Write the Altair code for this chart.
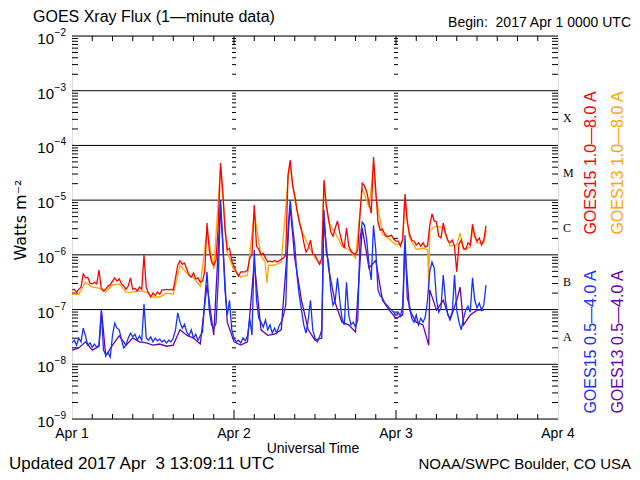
import altair as alt
import pandas as pd

# ---------------- data ----------------
# GOES15 series are sampled on a 20-minute grid starting Apr 1 00:00 UTC
STEP_HOURS = 20 / 60

# GOES15 1.0-8.0 A  (log10 of W/m^2)
g15_long_log10 = [
    -6.64, -6.63, -6.68, -6.63, -6.59, -6.35, -6.42, -6.41, -6.52, -6.53,
    -6.50, -6.53, -6.28, -6.61, -6.66, -6.63, -6.57, -6.55, -6.48, -6.42,
    -6.48, -6.44, -6.53, -6.57, -6.63, -6.57, -6.42, -6.63, -6.61, -6.66,
    -6.59, -6.63, -6.00, -6.59, -6.70, -6.77, -6.70, -6.74, -6.68, -6.72,
    -6.64, -6.64, -6.63, -6.64, -6.63, -6.64, -6.42, -6.19, -6.11, -6.17,
    -6.15, -6.26, -6.37, -6.41, -6.33, -6.44, -6.42, -6.50, -6.48, -6.31,
    -5.42, -5.91, -6.13, -6.19, -6.10, -5.46, -4.32, -4.82, -5.55, -5.91,
    -5.88, -6.11, -6.21, -6.31, -6.39, -6.31, -6.31, -6.31, -6.28, -6.06,
    -6.00, -5.09, -5.84, -5.90, -6.00, -5.97, -6.06, -6.13, -6.11, -6.13,
    -6.10, -6.13, -6.11, -6.08, -6.06, -6.00, -4.54, -4.27, -4.72, -4.91,
    -5.18, -5.40, -5.55, -5.77, -5.95, -5.88, -5.73, -5.99, -6.00, -6.10,
    -6.17, -6.06, -4.63, -5.09, -5.33, -5.58, -5.66, -5.51, -5.38, -5.60,
    -5.77, -5.88, -5.51, -5.84, -5.93, -5.97, -5.99, -5.91, -5.27, -4.69,
    -4.74, -4.85, -5.05, -5.24, -4.21, -4.82, -5.40, -5.55, -5.53, -5.62,
    -5.66, -5.66, -5.64, -5.71, -5.75, -5.75, -5.84, -5.69, -4.89, -5.40,
    -5.62, -5.73, -5.75, -5.82, -5.78, -5.84, -5.78, -5.86, -5.84, -5.46,
    -5.25, -5.38, -5.40, -5.66, -5.69, -5.42, -5.60, -5.73, -5.78, -5.73,
    -5.84, -6.31, -5.80, -5.73, -5.88, -5.90, -5.78, -5.82, -5.44, -5.66,
    -5.75, -5.69, -5.82, -5.73, -5.47,
]

# GOES15 0.5-4.0 A  (log10 of W/m^2)
g15_short_log10 = [
    -7.61, -7.56, -7.65, -7.52, -7.59, -7.34, -7.48, -7.65, -7.61, -7.69,
    -7.63, -7.69, -7.65, -7.01, -7.74, -7.83, -7.78, -7.87, -7.47, -7.25,
    -7.34, -7.37, -7.56, -7.70, -7.65, -7.52, -7.43, -7.50, -7.45, -7.56,
    -7.48, -7.56, -6.90, -7.52, -7.56, -7.50, -7.59, -7.52, -7.57, -7.54,
    -7.59, -7.56, -7.61, -7.56, -7.59, -7.52, -7.37, -7.06, -7.23, -7.34,
    -7.27, -7.41, -7.48, -7.37, -7.52, -7.45, -7.56, -7.48, -7.41, -6.83,
    -6.31, -7.01, -7.28, -7.34, -7.25, -6.46, -5.00, -5.73, -6.64, -7.10,
    -6.83, -7.37, -7.52, -7.59, -7.56, -7.61, -7.52, -7.57, -7.48, -7.16,
    -7.47, -5.91, -6.83, -7.16, -7.23, -7.32, -7.19, -7.37, -7.28, -7.43,
    -7.34, -7.43, -7.30, -7.23, -7.10, -6.92, -5.55, -5.00, -5.47, -5.82,
    -6.37, -6.74, -7.01, -7.28, -7.43, -7.19, -6.83, -7.37, -7.52, -7.59,
    -7.50, -7.37, -5.18, -5.95, -6.13, -6.64, -6.92, -6.83, -6.42, -6.83,
    -7.16, -7.28, -6.50, -7.10, -7.28, -7.23, -7.32, -7.19, -5.73, -5.40,
    -5.46, -5.73, -6.19, -6.46, -5.46, -5.91, -6.64, -6.75, -6.79, -6.88,
    -6.92, -6.97, -7.01, -7.05, -7.10, -7.05, -7.12, -6.92, -5.64, -6.79,
    -6.92, -7.16, -7.23, -7.10, -7.28, -7.16, -7.23, -7.14, -6.83, -6.31,
    -6.13, -6.24, -6.83, -7.05, -6.97, -6.37, -6.83, -7.10, -7.16, -7.05,
    -6.37, -7.01, -7.23, -7.37, -7.16, -7.01, -6.94, -7.05, -6.42, -6.83,
    -6.97, -6.88, -7.01, -6.92, -6.55,
]

# GOES13 1.0-8.0 A : hours since Apr 1 00:00 UTC and log10 flux
g13_long_hours = [
    0, 1, 2, 3, 4, 5, 6, 7, 8, 9, 10, 11, 12, 13, 14, 15, 16, 17, 18, 19,
    20, 21, 22, 23, 24, 25, 26, 27, 28, 28.6, 28.9, 29.1, 30, 31, 32, 32.3,
    33, 34, 35, 36, 37, 37.3, 38, 39, 40, 41, 42, 43, 44, 44.7, 45, 46, 47,
    48, 49, 49.3, 50, 51, 52, 52.7, 52.85, 53, 54, 55, 56, 57, 57.5, 58, 59,
    59.4, 60, 61, 61.4,
]
g13_long_log10 = [
    -6.72, -6.72, -6.50, -6.59, -6.61, -6.68, -6.55, -6.53, -6.68, -6.68,
    -6.66, -6.68, -6.77, -6.77, -6.70, -6.72, -6.19, -6.33, -6.42, -6.57,
    -5.55, -6.26, -4.41, -5.95, -6.28, -6.41, -6.37, -5.22, -6.02, -6.13,
    -6.52, -6.19, -6.19, -6.13, -4.63, -4.32, -5.00, -5.55, -5.82, -6.06,
    -6.17, -4.72, -5.40, -5.60, -5.84, -5.91, -6.06, -4.78, -5.13, -4.36,
    -4.91, -5.62, -5.71, -5.82, -5.78, -4.96, -5.69, -5.90, -5.88, -5.91,
    -6.70, -5.55, -5.47, -5.51, -5.84, -5.82, -5.60, -5.91, -5.86, -5.51,
    -5.78, -5.78, -5.55,
]

# GOES13 0.5-4.0 A
g13_short_hours = [
    0, 1, 2, 3, 4, 4.4, 5, 6, 7, 8, 9, 10, 11, 12, 13, 14, 15, 16, 17, 18,
    19, 20, 21, 22, 23, 24, 25, 26, 27, 28, 29, 30, 31, 32, 32.3, 33, 34,
    35, 36, 37, 37.3, 38, 39, 40, 41, 42, 43, 44, 45, 46, 47, 48, 49, 49.3,
    50, 51, 52, 52.85, 53, 54, 55, 56, 57, 57.5, 58, 59, 60, 61,
]
g13_short_log10 = [
    -7.74, -7.70, -7.59, -7.74, -7.67, -7.05, -7.85, -7.65, -7.48, -7.65,
    -7.52, -7.59, -7.61, -7.65, -7.63, -7.67, -7.65, -7.37, -7.47, -7.52,
    -7.63, -6.55, -7.47, -5.09, -7.23, -7.59, -7.65, -7.59, -6.13, -7.37,
    -7.47, -7.45, -7.37, -5.73, -5.09, -6.06, -6.83, -7.37, -7.56, -7.52,
    -5.36, -6.24, -6.88, -7.23, -7.28, -7.41, -5.51, -6.24, -6.10, -6.83,
    -7.01, -7.16, -7.10, -5.82, -7.01, -7.23, -7.28, -7.65, -6.64, -7.01,
    -6.83, -7.19, -6.83, -6.59, -7.28, -7.10, -7.01, -7.01,
]

decade_exponents = [-9, -8, -7, -6, -5, -4, -3, -2]
minor_mantissas = [2, 3, 4, 5, 6, 7, 8, 9]
day_hours = [0, 24, 48, 72]
day_labels = ["Apr 1", "Apr 2", "Apr 3", "Apr 4"]
three_hour_ticks = [3, 6, 9, 12, 15, 18, 21, 27, 30, 33, 36, 39, 42, 45,
                    51, 54, 57, 60, 63, 66, 69]
class_labels = ["A", "B", "C", "M", "X"]
class_floor_exp = [-8, -7, -6, -5, -4]

series_names = ["GOES15 1.0—8.0 A", "GOES13 1.0—8.0 A",
                "GOES15 0.5—4.0 A", "GOES13 0.5—4.0 A"]
series_colors = ["#ff0000", "#ffa500", "#1432ff", "#6a00b0"]

# ---------------- tables ----------------
def frame(hours, logs, name):
    return pd.DataFrame({"hour": hours,
                         "flux": [10 ** v for v in logs],
                         "series": name})

g15_hours = [i * STEP_HOURS for i in range(len(g15_long_log10))]
df_r = frame(g15_hours, g15_long_log10, series_names[0])
df_o = frame(g13_long_hours, g13_long_log10, series_names[1])
df_b = frame(g15_hours, g15_short_log10, series_names[2])
df_p = frame(g13_short_hours, g13_short_log10, series_names[3])

df_dec = pd.DataFrame({"v": [10.0 ** e for e in decade_exponents],
                       "exp": ["−" + str(-e) for e in decade_exponents]})
df_minor = pd.DataFrame({"v": [m * 10.0 ** e for e in decade_exponents[:-1]
                               for m in minor_mantissas]})
df_minor_days = pd.DataFrame([{"v": v, "hour": h} for v in df_minor["v"]
                              for h in day_hours[1:3]])
df_days = pd.DataFrame({"hour": day_hours, "label": day_labels})
df_mid_days = pd.DataFrame({"hour": day_hours[1:3]})
df_3h = pd.DataFrame({"hour": three_hour_ticks})
df_cls = pd.DataFrame({"label": class_labels,
                       "v": [10 ** (e + 0.5) for e in class_floor_exp]})

W, H = 486, 383
FONT = "Liberation Sans"
xs = alt.Scale(domain=[0, 72], nice=False, zero=False)
ys = alt.Scale(type="log", domain=[1e-9, 1e-2], nice=False)
X = lambda f="hour": alt.X(f"{f}:Q", scale=xs, axis=None)
Y = lambda f="v": alt.Y(f"{f}:Q", scale=ys, axis=None)

layers = []
# decade gridlines
layers.append(alt.Chart(df_dec).mark_rule(color="black", strokeWidth=1)
              .encode(y=Y()))
# minor log ticks, left and right
layers.append(alt.Chart(df_minor).mark_rule(color="black")
              .encode(y=Y(), x=alt.value(0), x2=alt.value(6)))
layers.append(alt.Chart(df_minor).mark_rule(color="black")
              .encode(y=Y(), x=alt.value(W - 6), x2=alt.value(W)))
# minor log ticks along day boundaries
layers.append(alt.Chart(df_minor_days).mark_rule(color="black", xOffset=-2, x2Offset=2)
              .encode(y=Y(), x=X(), x2=alt.X2("hour:Q")))
# time ticks top and bottom
layers.append(alt.Chart(df_3h).mark_rule(color="black")
              .encode(x=X(), y=alt.value(0), y2=alt.value(5)))
layers.append(alt.Chart(df_3h).mark_rule(color="black")
              .encode(x=X(), y=alt.value(H - 5), y2=alt.value(H)))
layers.append(alt.Chart(df_mid_days).mark_rule(color="black")
              .encode(x=X(), y=alt.value(0), y2=alt.value(9)))
layers.append(alt.Chart(df_mid_days).mark_rule(color="black")
              .encode(x=X(), y=alt.value(H - 9), y2=alt.value(H)))

# data lines
for df, col in [(df_o, series_colors[1]), (df_r, series_colors[0]),
                (df_p, series_colors[3]), (df_b, series_colors[2])]:
    layers.append(alt.Chart(df).mark_line(color=col, strokeWidth=1.3, clip=True)
                  .encode(x=X(), y=Y("flux")))

# y labels
layers.append(alt.Chart(df_dec).mark_text(align="right", baseline="middle",
                                          font=FONT, fontSize=15, dy=3, color="black")
              .encode(y=Y(), x=alt.value(-18), text=alt.value("10")))
layers.append(alt.Chart(df_dec).mark_text(align="right", baseline="middle",
                                          font=FONT, fontSize=10, dy=-3, color="black")
              .encode(y=Y(), x=alt.value(-6), text="exp:N"))
# x labels
layers.append(alt.Chart(df_days).mark_text(align="center", baseline="middle",
                                           font=FONT, fontSize=14, color="black")
              .encode(x=X(), y=alt.value(H + 15), text="label:N"))
# flare classes
layers.append(alt.Chart(df_cls).mark_text(align="left", baseline="middle",
                                          font="Liberation Serif", fontSize=12, color="black")
              .encode(y=Y(), x=alt.value(W + 5), text="label:N"))

def txt(s, x, y, size=14, align="left", angle=0, color="black", font=FONT):
    return (alt.Chart(pd.DataFrame({"t": [s]}))
            .mark_text(align=align, baseline="middle", font=font, fontSize=size,
                       angle=angle, color=color)
            .encode(x=alt.value(x), y=alt.value(y), text="t:N"))

layers += [
    txt("GOES Xray Flux (1—minute data)", -39, -19, 16),
    txt("Begin:\u00a0 2017 Apr 1 0000 UTC", W + 73, -13, 14, align="right"),
    txt("Universal Time", 241, H + 30, 14, align="center"),
    txt("Updated 2017 Apr\u00a0 3 13:09:11 UTC", -63, H + 45, 17),
    txt("NOAA/SWPC Boulder, CO USA", W + 73, H + 45, 15, align="right"),
    txt("Watts m⁻²", -51, 184, 16, align="center", angle=270, font="DejaVu Sans"),
    txt(series_names[0], W + 33, 127, 16, align="center", angle=270, color=series_colors[0]),
    txt(series_names[1], W + 60, 127, 16, align="center", angle=270, color=series_colors[1]),
    txt(series_names[2], W + 33, 306, 16, align="center", angle=270, color=series_colors[2]),
    txt(series_names[3], W + 60, 306, 16, align="center", angle=270, color=series_colors[3]),
]

chart = (alt.layer(*layers)
         .properties(width=W, height=H,
                     autosize=alt.AutoSizeParams(type="none"),
                     padding={"left": 64, "top": 28, "right": 74, "bottom": 53})
         .configure_view(stroke="black", strokeWidth=1)
         .configure(background="white"))

chart.save("out.html", embed_options={"renderer": "svg", "actions": False})
